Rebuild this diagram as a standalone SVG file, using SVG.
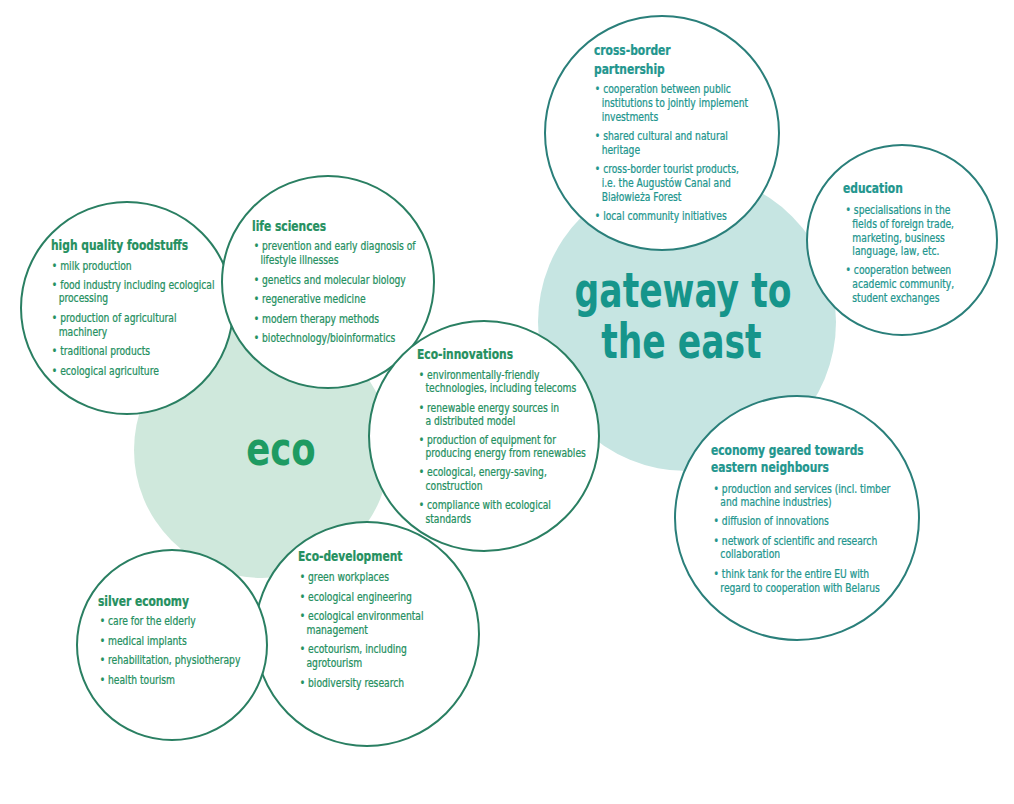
<svg xmlns="http://www.w3.org/2000/svg" width="1014" height="804" viewBox="0 0 1014 804">
<style>
text{font-family:"Liberation Sans Narrow","DejaVu Sans Condensed","Liberation Sans",sans-serif;font-stretch:condensed}
.g{fill:#25905f;stroke:#25905f;stroke-width:0.25}
.t{fill:#22968e;stroke:#22968e;stroke-width:0.25}
.h{font-size:14px;font-weight:bold}
.b{font-size:12px}
.nodeG{fill:#ffffff;stroke:#2a7f62;stroke-width:2}
.nodeT{fill:#ffffff;stroke:#2a7f7a;stroke-width:2}
.big{font-weight:bold}
</style>
<rect width="1014" height="804" fill="#ffffff"/>
<g id="eco">
<circle cx="262" cy="450" r="128" fill="#cfe8dc"/>
<text class="big" x="281" y="465" font-size="47" text-anchor="middle" fill="#1e9b62" transform="translate(281,0) scale(0.84,1) translate(-281,0)">eco</text>
</g>
<g id="gateway">
<circle cx="687" cy="322" r="149" fill="#c6e5e2"/>
<g transform="translate(683,0) scale(0.8,1) translate(-683,0)">
<text class="big" x="683" y="307" font-size="48" text-anchor="middle" fill="#16958b">gateway to</text>
<text class="big" x="681" y="358" font-size="48" text-anchor="middle" fill="#16958b">the east</text>
</g>
</g>
<g id="connectors"></g>
<g id="foodstuffs">
<circle class="nodeG" cx="127" cy="308" r="106"/>
<g transform="translate(51,0) scale(0.85,1) translate(-51,0)">
<text class="g h" x="51" y="250">high quality foodstuffs</text>
<g class="g b">
<text x="52" y="270">• milk production</text>
<text x="52" y="289">• food industry including ecological</text>
<text x="60" y="302">processing</text>
<text x="52" y="322">• production of agricultural</text>
<text x="60" y="336">machinery</text>
<text x="52" y="355">• traditional products</text>
<text x="52" y="375">• ecological agriculture</text>
</g>
</g>
</g>
<g id="life-sciences">
<circle class="nodeG" cx="328" cy="282" r="106"/>
<g transform="translate(252,0) scale(0.85,1) translate(-252,0)">
<text class="g h" x="252" y="231">life sciences</text>
<g class="g b">
<text x="254" y="250">• prevention and early diagnosis of</text>
<text x="262" y="264">lifestyle illnesses</text>
<text x="254" y="284">• genetics and molecular biology</text>
<text x="254" y="303">• regenerative medicine</text>
<text x="254" y="323">• modern therapy methods</text>
<text x="254" y="342">• biotechnology/bioinformatics</text>
</g>
</g>
</g>
<g id="eco-innovations">
<circle class="nodeG" cx="484" cy="436" r="115"/>
<g transform="translate(417,0) scale(0.85,1) translate(-417,0)">
<text class="g h" x="417" y="359">Eco-innovations</text>
<g class="g b">
<text x="419" y="379">• environmentally-friendly</text>
<text x="427" y="392">technologies, including telecoms</text>
<text x="419" y="412">• renewable energy sources in</text>
<text x="427" y="425">a distributed model</text>
<text x="419" y="444">• production of equipment for</text>
<text x="427" y="457">producing energy from renewables</text>
<text x="419" y="476">• ecological, energy-saving,</text>
<text x="427" y="490">construction</text>
<text x="419" y="509">• compliance with ecological</text>
<text x="427" y="523">standards</text>
</g>
</g>
</g>
<g id="eco-development">
<circle class="nodeG" cx="367" cy="634" r="112"/>
<g transform="translate(298,0) scale(0.85,1) translate(-298,0)">
<text class="g h" x="298" y="561">Eco-development</text>
<g class="g b">
<text x="300" y="581">• green workplaces</text>
<text x="300" y="601">• ecological engineering</text>
<text x="300" y="620">• ecological environmental</text>
<text x="308" y="634">management</text>
<text x="300" y="653">• ecotourism, including</text>
<text x="308" y="667">agrotourism</text>
<text x="300" y="687">• biodiversity research</text>
</g>
</g>
</g>
<g id="silver-economy">
<circle class="nodeG" cx="172" cy="645" r="95"/>
<g transform="translate(98,0) scale(0.85,1) translate(-98,0)">
<text class="g h" x="98" y="606">silver economy</text>
<g class="g b">
<text x="100" y="625">• care for the elderly</text>
<text x="100" y="645">• medical implants</text>
<text x="100" y="664">• rehabilitation, physiotherapy</text>
<text x="100" y="684">• health tourism</text>
</g>
</g>
</g>
<g id="cross-border">
<circle class="nodeT" cx="662" cy="133" r="117"/>
<g transform="translate(594,0) scale(0.85,1) translate(-594,0)">
<text class="t h"><tspan x="594" y="55">cross-border</tspan><tspan x="594" y="74">partnership</tspan></text>
<g class="t b">
<text x="595" y="93">• cooperation between public</text>
<text x="603" y="107">institutions to jointly implement</text>
<text x="603" y="121">investments</text>
<text x="595" y="140">• shared cultural and natural</text>
<text x="603" y="154">heritage</text>
<text x="595" y="173">• cross-border tourist products,</text>
<text x="603" y="187">i.e. the Augustów Canal and</text>
<text x="603" y="201">Białowieża Forest</text>
<text x="595" y="220">• local community initiatives</text>
</g>
</g>
</g>
<g id="education">
<circle class="nodeT" cx="902" cy="240" r="95"/>
<g transform="translate(843,0) scale(0.85,1) translate(-843,0)">
<text class="t h" x="843" y="193">education</text>
<g class="t b">
<text x="846" y="214">• specialisations in the</text>
<text x="854" y="228">fields of foreign trade,</text>
<text x="854" y="242">marketing, business</text>
<text x="854" y="255">language, law, etc.</text>
<text x="846" y="274">• cooperation between</text>
<text x="854" y="288">academic community,</text>
<text x="854" y="302">student exchanges</text>
</g>
</g>
</g>
<g id="economy-east">
<circle class="nodeT" cx="797" cy="518" r="122"/>
<g transform="translate(711,0) scale(0.85,1) translate(-711,0)">
<text class="t h"><tspan x="711" y="455">economy geared towards</tspan><tspan x="711" y="472">eastern neighbours</tspan></text>
<g class="t b">
<text x="714" y="493">• production and services (incl. timber</text>
<text x="722" y="506">and machine industries)</text>
<text x="714" y="525">• diffusion of innovations</text>
<text x="714" y="545">• network of scientific and research</text>
<text x="722" y="558">collaboration</text>
<text x="714" y="578">• think tank for the entire EU with</text>
<text x="722" y="592">regard to cooperation with Belarus</text>
</g>
</g>
</g>
</svg>
